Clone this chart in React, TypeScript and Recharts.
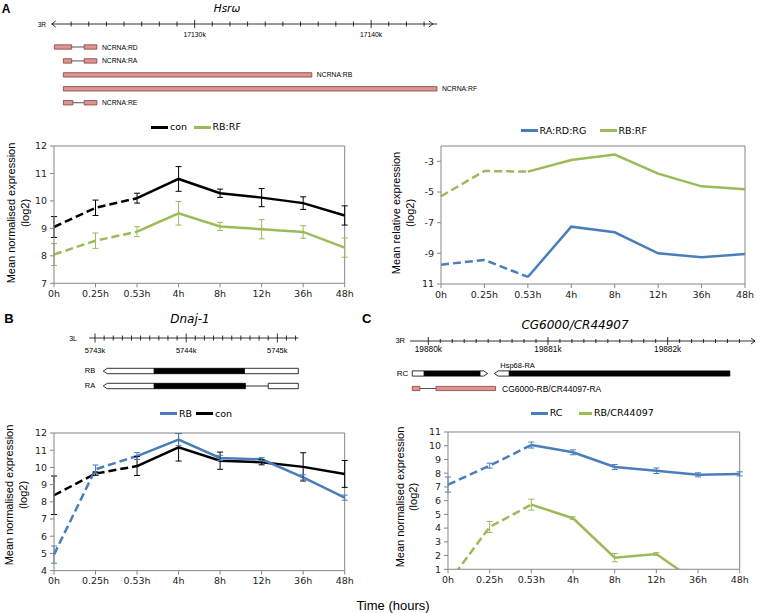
import React from 'react'
import {
  ComposedChart,
  ErrorBar,
  Line,
  LineChart,
  ReferenceArea,
  ReferenceDot,
  ReferenceLine,
  XAxis,
  YAxis,
} from 'recharts'

const TIMES = ['0h', '0.25h', '0.53h', '4h', '8h', '12h', '36h', '48h']

// A: Hsrω, normalised expression
const A_CON = [9.05, 9.75, 10.1, 10.8, 10.28, 10.12, 9.92, 9.47]
const A_CON_ERR = [0.38, 0.28, 0.18, 0.45, 0.15, 0.33, 0.23, 0.35]
const A_RBRF = [8.05, 8.55, 8.88, 9.55, 9.07, 8.97, 8.87, 8.3]
const A_RBRF_ERR = [0.4, 0.28, 0.18, 0.43, 0.15, 0.35, 0.23, 0.35]

// A: Hsrω, relative expression
const A2_RARDRG = [-9.74, -9.43, -10.54, -7.26, -7.63, -9.0, -9.26, -9.04]
const A2_RBRF = [-5.28, -3.63, -3.67, -2.91, -2.56, -3.8, -4.63, -4.82]

// B: Dnaj-1
const B_RB = [4.93, 9.89, 10.66, 11.62, 10.55, 10.47, 9.42, 8.24]
const B_RB_ERR = [0.5, 0.25, 0.2, 0.35, 0.15, 0.1, 0.15, 0.15]
const B_CON = [8.38, 9.64, 10.08, 11.17, 10.39, 10.3, 10.03, 9.62]
const B_CON_ERR = [1.12, 0.1, 0.55, 0.8, 0.5, 0.15, 0.82, 0.78]

// C: CG6000/CR44907
const C_RC = [7.17, 8.55, 10.05, 9.52, 8.45, 8.18, 7.88, 7.95]
const C_RC_ERR = [0.55, 0.18, 0.22, 0.18, 0.18, 0.2, 0.15, 0.15]
const C_RB = [0.0, 4.08, 5.71, 4.72, 1.85, 2.11, 0.0, -0.5]
const C_RB_ERR = [null, 0.4, 0.4, 0.1, 0.3, 0.1, null, null]

// gene models (genomic positions in kb)
const A_TICKS = [17123, 17124, 17125, 17126, 17127, 17128, 17129, 17130, 17131, 17132, 17133, 17134, 17135, 17136, 17137, 17138, 17139, 17140, 17141, 17142, 17143]
const A_TRANSCRIPTS = [
  { name: 'NCRNA:RD', exons: [[17122.05, 17123.03], [17123.74, 17124.46]] },
  { name: 'NCRNA:RA', exons: [[17122.56, 17123.03], [17123.74, 17124.46]] },
  { name: 'NCRNA:RB', exons: [[17122.56, 17136.64]] },
  { name: 'NCRNA:RF', exons: [[17122.56, 17143.73]] },
  { name: 'NCRNA:RE', exons: [[17122.56, 17123.1], [17123.74, 17124.46]] },
]

const B_TRANSCRIPTS = [
  {
    name: 'RB',
    parts: [
      { s: 5743.09, e: 5743.65, cds: false, tip: 'l' },
      { s: 5743.65, e: 5744.64, cds: true },
      { s: 5744.64, e: 5745.23, cds: false },
    ],
    introns: [] as number[][],
  },
  {
    name: 'RA',
    parts: [
      { s: 5743.09, e: 5743.65, cds: false, tip: 'l' },
      { s: 5743.65, e: 5744.65, cds: true },
      { s: 5744.9, e: 5745.23, cds: false },
    ],
    introns: [[5744.65, 5744.9]],
  },
]

const C_RC_PARTS = [
  { s: 19879.866, e: 19879.966, cds: false },
  { s: 19879.966, e: 19880.432, cds: true },
  { s: 19880.432, e: 19880.496, cds: false, tip: 'r' },
  { s: 19880.551, e: 19880.677, cds: false, tip: 'l' },
  { s: 19880.677, e: 19882.52, cds: true },
]
const C_PINK_EXONS = [[19879.866, 19879.93], [19880.064, 19880.562]]

const BLACK = '#000000'
const GREEN = '#9bbb59'
const BLUE = '#4a7ebb'
const AXIS = '#868686'
const PINK = '#d99694'
const PINK_EDGE = '#8e3b3b'
const SANS = "'Liberation Sans', Arial, sans-serif"
const VERDANA = "'DejaVu Sans', Verdana, sans-serif"

function range(a: number, b: number, step: number) {
  const out: number[] = []
  for (let v = a; v <= b + 1e-9; v += step) out.push(Math.round(v * 10) / 10)
  return out
}
const B_TICKS = range(5743, 5745.2, 0.1)
const C_TICKS = range(19880, 19882.6, 0.1)

function T({ x, y, children, size = 11, anchor = 'middle', weight = 400, italic = false, family = SANS, rotate = false }: any) {
  const tx = anchor === 'start' ? '0' : anchor === 'end' ? '-100%' : '-50%'
  return (
    <div
      style={{
        position: 'absolute',
        left: x,
        top: y,
        transform: `translate(${tx}, -50%)${rotate ? ' rotate(-90deg)' : ''}`,
        whiteSpace: 'nowrap',
        lineHeight: 1,
        fontSize: size,
        fontWeight: weight,
        fontStyle: italic ? 'italic' : 'normal',
        fontFamily: family,
        color: '#000',
      }}
    >
      {children}
    </div>
  )
}

function LegendItem({ x, y, color, label, len = 17 }: any) {
  return (
    <>
      <div style={{ position: 'absolute', left: x, top: y - 1.5, width: len, height: 3, background: color }} />
      <T x={x + len + 2} y={y} anchor="start" size={9.5} family={VERDANA}>{label}</T>
    </>
  )
}

type Series = { key: string; values: (number | null)[]; errors?: (number | null)[]; color: string }

function buildRows(series: Series[]) {
  return TIMES.map((t, i) => {
    const row: any = { t }
    series.forEach((s) => {
      row[s.key] = s.values[i]
      row[s.key + 'Dash'] = i <= 2 ? s.values[i] : null
      row[s.key + 'Solid'] = i >= 2 ? s.values[i] : null
      if (s.errors) row[s.key + 'Err'] = s.errors[i]
    })
    return row
  })
}

function ExprChart({ pl, pt, pr, pb, domain, ticks, fmt, series }: any) {
  const yw = 40
  const mt = 6
  const mr = 10
  const xh = 26
  const rows = buildRows(series)
  const tickStyle = { fontSize: 9.5, fill: '#222', fontFamily: VERDANA }
  return (
    <div style={{ position: 'absolute', left: pl - yw, top: pt - mt }}>
      <LineChart
        width={pr - pl + yw + mr}
        height={pb - pt + mt + xh}
        data={rows}
        margin={{ top: mt, right: mr, bottom: 0, left: 0 }}
      >
        <XAxis
          dataKey="t"
          interval={0}
          height={xh}
          tick={tickStyle}
          tickSize={4}
          tickMargin={3}
          axisLine={{ stroke: AXIS }}
          tickLine={{ stroke: AXIS }}
        />
        <YAxis
          domain={domain}
          ticks={ticks}
          interval={0}
          allowDataOverflow
          width={yw}
          tick={tickStyle}
          tickSize={4}
          tickMargin={3}
          tickFormatter={fmt}
          axisLine={{ stroke: AXIS }}
          tickLine={{ stroke: AXIS }}
        />
        <ReferenceLine y={domain[1]} stroke={AXIS} />
        <ReferenceLine x={TIMES[TIMES.length - 1]} stroke={AXIS} />
        {series.map((s: Series) => (
          <Line
            key={s.key + 'd'}
            dataKey={s.key + 'Dash'}
            stroke={s.color}
            strokeWidth={2.5}
            strokeDasharray="8 4"
            dot={false}
            activeDot={false}
            isAnimationActive={false}
          />
        ))}
        {series.map((s: Series) => (
          <Line
            key={s.key + 's'}
            dataKey={s.key + 'Solid'}
            stroke={s.color}
            strokeWidth={2.5}
            dot={false}
            activeDot={false}
            isAnimationActive={false}
          />
        ))}
        {series
          .filter((s: Series) => s.errors)
          .map((s: Series) => (
            <Line
              key={s.key + 'e'}
              dataKey={s.key}
              stroke="none"
              dot={false}
              activeDot={false}
              isAnimationActive={false}
            >
              <ErrorBar dataKey={s.key + 'Err'} width={3} stroke={s.color} strokeWidth={1} direction="y" />
            </Line>
          ))}
      </LineChart>
    </div>
  )
}

const partShape = (fill: string, stroke: string, tip?: string) => (p: any) => {
  const { x, y, width: w, height: h } = p
  const a = Math.min(4, w)
  let pts: number[][]
  if (tip === 'l') pts = [[x, y + h / 2], [x + a, y], [x + w, y], [x + w, y + h], [x + a, y + h]]
  else if (tip === 'r') pts = [[x, y], [x + w - a, y], [x + w, y + h / 2], [x + w - a, y + h], [x, y + h]]
  else pts = [[x, y], [x + w, y], [x + w, y + h], [x, y + h]]
  return <polygon points={pts.map((q) => q.join(',')).join(' ')} fill={fill} stroke={stroke} strokeWidth={0.8} />
}

const textShape = (label: string, dx: number, dy: number, size: number, anchor = 'start') => (p: any) => (
  <text x={p.cx + dx} y={p.cy + dy} fontSize={size} fontFamily={SANS} textAnchor={anchor} dominantBaseline="central" fill="#000">
    {label}
  </text>
)

const chevron = (dir: 'l' | 'r') => (p: any) => {
  const s = dir === 'r' ? -1 : 1
  return <polyline points={`${p.cx + s * 4},${p.cy - 3} ${p.cx},${p.cy} ${p.cx + s * 4},${p.cy + 3}`} fill="none" stroke="#000" strokeWidth={0.8} />
}

function GenePanel({ left, top, width, height, axisY, plotL, plotR, domain, row0, gap, ticks, major, size, labelDy, tickLen, children }: any) {
  const axisH = axisY - top
  const plotBottom = top + height
  const yDomain = [-(row0 - axisY) / gap, (plotBottom - row0) / gap]
  const tick = (p: any) => {
    const v = p.payload.value
    const isMajor = Math.abs(v / major - Math.round(v / major)) < 1e-6
    const len = isMajor ? tickLen[1] : tickLen[0]
    return (
      <g>
        <line x1={p.x} x2={p.x} y1={axisH - len} y2={axisH + len} stroke="#000" strokeWidth={0.8} />
        {isMajor && (
          <text x={p.x} y={axisH + labelDy} textAnchor="middle" dominantBaseline="central" fontSize={size} fontFamily={SANS} fill="#000">
            {`${Math.round(v)}k`}
          </text>
        )}
      </g>
    )
  }
  return (
    <div style={{ position: 'absolute', left, top }}>
      <ComposedChart
        width={width}
        height={height}
        margin={{ top: 0, right: left + width - plotR, bottom: 0, left: plotL - left }}
      >
        <XAxis
          type="number"
          dataKey="x"
          orientation="top"
          domain={domain}
          allowDataOverflow
          ticks={ticks}
          interval={0}
          height={axisH}
          tickLine={false}
          axisLine={{ stroke: '#000', strokeWidth: 0.8 }}
          tick={tick}
        />
        <YAxis type="number" domain={yDomain} reversed hide allowDataOverflow />
        {children(yDomain[0])}
      </ComposedChart>
    </div>
  )
}

export default function App() {
  const aLeft: Series[] = [
    { key: 'con', values: A_CON, errors: A_CON_ERR, color: BLACK },
    { key: 'rbrf', values: A_RBRF, errors: A_RBRF_ERR, color: GREEN },
  ]
  const aRight: Series[] = [
    { key: 'ra', values: A2_RARDRG, color: BLUE },
    { key: 'rbrf', values: A2_RBRF, color: GREEN },
  ]
  const bSeries: Series[] = [
    { key: 'con', values: B_CON, errors: B_CON_ERR, color: BLACK },
    { key: 'rb', values: B_RB, errors: B_RB_ERR, color: BLUE },
  ]
  const cSeries: Series[] = [
    { key: 'rc', values: C_RC, errors: C_RC_ERR, color: BLUE },
    { key: 'rb', values: C_RB, errors: C_RB_ERR, color: GREEN },
  ]

  const aHalf = 2.2 / 13.94
  const bHalf = 2.7 / 15
  const cHalf = 2.6 / 15
  const pHalf = 2.1 / 15

  return (
    <div style={{ position: 'absolute', left: 0, top: 0, width: 760, height: 613, background: '#fff', overflow: 'hidden', fontFamily: SANS }}>
      {/* A: gene model */}
      <GenePanel
        left={0} top={0} width={520} height={112}
        axisY={24} plotL={51.7} plotR={437.3}
        domain={[17121.9, 17143.75]}
        row0={47} gap={13.94}
        ticks={A_TICKS} major={10} size={6.8} labelDy={10.7} tickLen={[2.5, 4]}
      >
        {(yTop: number) => [
          <ReferenceDot key="al" x={17121.9} y={yTop} r={0} ifOverflow="visible" shape={chevron('l')} />,
          <ReferenceDot key="ar" x={17143.5} y={yTop} r={0} ifOverflow="visible" shape={chevron('r')} />,
          ...A_TRANSCRIPTS.flatMap((tr, i) => [
            ...tr.exons.slice(1).map((ex, j) => (
              <ReferenceLine key={`ai${i}${j}`} segment={[{ x: tr.exons[j][1], y: i }, { x: ex[0], y: i }]} stroke="#555" strokeWidth={1} ifOverflow="visible" />
            )),
            ...tr.exons.map((ex, j) => (
              <ReferenceArea key={`ae${i}${j}`} x1={ex[0]} x2={ex[1]} y1={i - aHalf} y2={i + aHalf} ifOverflow="visible" shape={partShape(PINK, PINK_EDGE)} />
            )),
            <ReferenceDot key={`at${i}`} x={tr.exons[tr.exons.length - 1][1]} y={i} r={0} ifOverflow="visible" shape={textShape(tr.name, 5, 0, 6.8)} />,
          ]),
        ]}
      </GenePanel>
      <T x={6} y={8.5} size={12} weight={700}>A</T>
      <T x={227} y={7.5} size={10.5} italic family={VERDANA}>Hsrω</T>
      <T x={46} y={24.5} size={6.5} anchor="end">3R</T>

      {/* A: charts */}
      <LegendItem x={151} y={127} color={BLACK} label="con" />
      <LegendItem x={193.5} y={127} color={GREEN} label="RB:RF" />
      <ExprChart pl={54.3} pt={145.7} pr={345} pb={283} domain={[7, 12]} ticks={[7, 8, 9, 10, 11, 12]} series={aLeft} />
      <T x={11} y={213} size={11} rotate>Mean normalised expression</T>
      <T x={24.5} y={213} size={11} rotate>(log2)</T>

      <LegendItem x={520.5} y={130.5} color={BLUE} label="RA:RD:RG" />
      <LegendItem x={599.5} y={130.5} color={GREEN} label="RB:RF" />
      <ExprChart
        pl={441} pt={145.7} pr={745} pb={283.7}
        domain={[-11, -2]} ticks={[-11, -9, -7, -5, -3]}
        fmt={(v: number) => (v === -11 ? '11' : String(v))}
        series={aRight}
      />
      <T x={396} y={213} size={11} rotate>Mean relative expression</T>
      <T x={409.5} y={213} size={11} rotate>(log2)</T>

      {/* B: gene model */}
      <GenePanel
        left={40} top={330} width={300} height={65}
        axisY={338} plotL={89.1} plotR={298.3}
        domain={[5742.935, 5745.23]}
        row0={371} gap={15}
        ticks={B_TICKS} major={1} size={7.5} labelDy={12} tickLen={[2.5, 4.5]}
      >
        {() =>
          B_TRANSCRIPTS.flatMap((tr, i) => [
            ...tr.introns.map((it, j) => (
              <ReferenceLine key={`bi${i}${j}`} segment={[{ x: it[0], y: i }, { x: it[1], y: i }]} stroke="#000" strokeWidth={0.8} ifOverflow="visible" />
            )),
            ...tr.parts.map((pt, j) => (
              <ReferenceArea
                key={`bp${i}${j}`} x1={pt.s} x2={pt.e} y1={i - bHalf} y2={i + bHalf} ifOverflow="visible"
                shape={partShape(pt.cds ? '#000' : '#fff', '#000', pt.tip)}
              />
            )),
            <ReferenceDot key={`bt${i}`} x={tr.parts[0].s} y={i} r={0} ifOverflow="visible" shape={textShape(tr.name, -8, -1, 7.5, 'end')} />,
          ])
        }
      </GenePanel>
      <T x={9} y={317.5} size={13} weight={700}>B</T>
      <T x={190} y={319} size={12} italic family={VERDANA}>Dnaj-1</T>
      <T x={77} y={338} size={7} anchor="end">3L</T>

      {/* B: chart */}
      <LegendItem x={160} y={413.5} color={BLUE} label="RB" />
      <LegendItem x={196} y={413.5} color={BLACK} label="con" />
      <ExprChart pl={54.3} pt={432.7} pr={345} pb={570.3} domain={[4, 12]} ticks={[4, 5, 6, 7, 8, 9, 10, 11, 12]} series={bSeries} />
      <T x={9} y={495} size={11} rotate>Mean normalised expression</T>
      <T x={22.5} y={495} size={11} rotate>(log2)</T>

      {/* C: gene model */}
      <GenePanel
        left={380} top={333} width={380} height={62}
        axisY={341} plotL={410} plotR={755}
        domain={[19879.847, 19882.73]}
        row0={373.5} gap={15}
        ticks={C_TICKS} major={1} size={8.3} labelDy={8.3} tickLen={[2, 4]}
      >
        {(yTop: number) => [
          <ReferenceDot key="cr" x={19882.73} y={yTop} r={0} ifOverflow="visible" shape={chevron('r')} />,
          ...C_RC_PARTS.map((pt, j) => (
            <ReferenceArea
              key={`cp${j}`} x1={pt.s} x2={pt.e} y1={-cHalf} y2={cHalf} ifOverflow="visible"
              shape={partShape(pt.cds ? '#000' : '#fff', '#000', pt.tip)}
            />
          )),
          <ReferenceDot key="crc" x={C_RC_PARTS[0].s} y={0} r={0} ifOverflow="visible" shape={textShape('RC', -4, 0, 8, 'end')} />,
          <ReferenceDot key="chsp" x={C_RC_PARTS[3].s} y={0} r={0} ifOverflow="visible" shape={textShape('Hsp68-RA', 6, -8, 7.5)} />,
          <ReferenceLine key="ci" segment={[{ x: C_PINK_EXONS[0][1], y: 1 }, { x: C_PINK_EXONS[1][0], y: 1 }]} stroke="#555" strokeWidth={1} ifOverflow="visible" />,
          ...C_PINK_EXONS.map((ex, j) => (
            <ReferenceArea key={`ce${j}`} x1={ex[0]} x2={ex[1]} y1={1 - pHalf} y2={1 + pHalf} ifOverflow="visible" shape={partShape(PINK, PINK_EDGE)} />
          )),
          <ReferenceDot key="cpl" x={C_PINK_EXONS[1][1]} y={1} r={0} ifOverflow="visible" shape={textShape('CG6000-RB/CR44097-RA', 6.5, 0, 8.5)} />,
        ]}
      </GenePanel>
      <T x={366.7} y={317.5} size={13} weight={700}>C</T>
      <T x={575} y={325} size={12} italic family={VERDANA}>CG6000/CR44907</T>
      <T x={405} y={341} size={7.5} anchor="end">3R</T>

      {/* C: chart */}
      <LegendItem x={530.7} y={413.3} color={BLUE} label="RC" />
      <LegendItem x={579} y={413.3} color={GREEN} label="RB/CR44097" len={13} />
      <ExprChart pl={448.3} pt={431.7} pr={740} pb={569} domain={[1, 11]} ticks={[1, 2, 3, 4, 5, 6, 7, 8, 9, 10, 11]} series={cSeries} />
      <T x={399.5} y={497} size={11} rotate>Mean normalised expression</T>
      <T x={413} y={497} size={11} rotate>(log2)</T>

      <T x={393} y={605} size={13}>Time (hours)</T>
    </div>
  )
}
